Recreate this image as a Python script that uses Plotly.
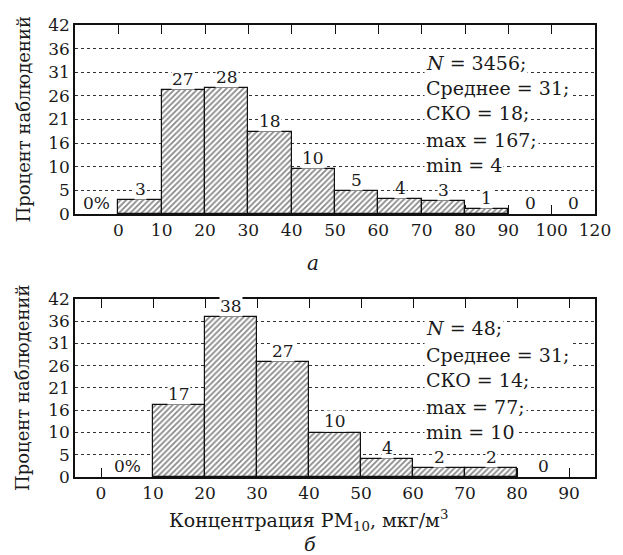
import plotly.graph_objects as go

# ---------------- data ----------------
y_tick_labels = ["0", "5", "10", "16", "21", "26", "31", "36", "42"]
y_max = 42

top_tick_labels = ["0", "10", "20", "30", "40", "50", "60", "70", "80", "90", "100", "120"]
top_bins = ["<0", "0-10", "10-20", "20-30", "30-40", "40-50", "50-60",
            "60-70", "70-80", "80-90", "90-100", "100-120"]
top_heights = [0, 3.1, 27.6, 27.9, 18.2, 9.9, 5.1, 3.4, 2.8, 1.1, 0, 0]
top_labels = ["0%", "3", "27", "28", "18", "10", "5", "4", "3", "1", "0", "0"]
top_stats = ["<i>N</i> = 3456;", "Среднее = 31;", "СКО = 18;", "max = 167;", "min = 4"]

bot_tick_labels = ["0", "10", "20", "30", "40", "50", "60", "70", "80", "90"]
bot_bins = ["0-10", "10-20", "20-30", "30-40", "40-50", "50-60", "60-70", "70-80", "80-90"]
bot_heights = [0, 17.0, 37.8, 27.2, 10.5, 4.2, 2.05, 2.05, 0]
bot_labels = ["0%", "17", "38", "27", "10", "4", "2", "2", "0"]
bot_stats = ["<i>N</i> = 48;", "Среднее = 31;", "СКО = 14;", "max = 77;", "min = 10"]

# ---------------- style ----------------
FONT = "DejaVu Serif"
TXT = "#1a1a1a"
TICK_FS = 17
LAB_FS = 17
STAT_FS = 19

fig = go.Figure()

pattern = dict(shape="/", size=4, solidity=0.45, fgcolor="#111111", bgcolor="white")

top_x = [i - 0.5 for i in range(len(top_bins))]
bot_x = [i + 0.5 for i in range(len(bot_bins))]

def nz(vals):
    return [v if v > 0 else None for v in vals]

fig.add_trace(go.Bar(x=top_x, y=nz(top_heights), width=1, customdata=top_bins,
                     marker=dict(color="white", pattern=pattern,
                                 line=dict(color="#111111", width=1.2)),
                     xaxis="x", yaxis="y", showlegend=False))
fig.add_trace(go.Bar(x=bot_x, y=nz(bot_heights), width=1, customdata=bot_bins,
                     marker=dict(color="white", pattern=pattern,
                                 line=dict(color="#111111", width=1.2)),
                     xaxis="x2", yaxis="y2", showlegend=False))

yvals = [y_max * i / (len(y_tick_labels) - 1) for i in range(len(y_tick_labels))]

def xaxis_cfg(rng, labels, anchor):
    return dict(range=rng, tickvals=list(range(len(labels))), ticktext=labels,
                ticks="inside", ticklen=9, tickwidth=1.3, tickcolor="#111111",
                showline=True, linecolor="#111111", linewidth=1.5, mirror="ticks",
                showgrid=False, zeroline=False, anchor=anchor, layer="below traces",
                tickfont=dict(family=FONT, size=TICK_FS, color=TXT))

def yaxis_cfg(domain, anchor):
    return dict(range=[0, y_max], tickvals=yvals, ticktext=y_tick_labels,
                domain=domain, anchor=anchor, ticks="", showline=True,
                linecolor="#111111", linewidth=1.5, mirror=True,
                showgrid=True, gridcolor="#333333", griddash="dot", gridwidth=1,
                zeroline=False, layer="below traces",
                tickfont=dict(family=FONT, size=TICK_FS, color=TXT))

def yaxis_right(over, anchor):
    return dict(range=[0, y_max], tickvals=yvals, overlaying=over, side="right",
                anchor=anchor, ticks="inside", ticklen=9, tickwidth=1.3,
                tickcolor="#111111", showticklabels=False, showgrid=False,
                zeroline=False, showline=False)

fig.update_layout(
    width=623, height=555,
    margin=dict(l=75, r=20, t=25, b=78),
    paper_bgcolor="white", plot_bgcolor="white",
    bargap=0,
    xaxis=xaxis_cfg([-1, len(top_tick_labels) - 1], top_tick_labels, "y"),
    yaxis=yaxis_cfg([0.582, 1.0], "x"),
    xaxis2=xaxis_cfg([-0.5, len(bot_tick_labels) - 0.5], bot_tick_labels, "y2"),
    yaxis2=yaxis_cfg([0.0, 0.394], "x2"),
    yaxis3=yaxis_right("y", "x"),
    yaxis4=yaxis_right("y2", "x2"),
)

ann = []
# bar value labels
for xs, hs, labs, xr, yr in [(top_x, top_heights, top_labels, "x", "y"),
                             (bot_x, bot_heights, bot_labels, "x2", "y2")]:
    for xv, hv, lab in zip(xs, hs, labs):
        ann.append(dict(x=xv, y=hv, xref=xr, yref=yr, text=lab, showarrow=False,
                        yanchor="bottom", xanchor="center", bgcolor="white", borderpad=0,
                        font=dict(family=FONT, size=LAB_FS, color=TXT)))

# statistics blocks
top_stat_y = [0.799, 0.667, 0.534, 0.392, 0.259]
bot_stat_y = [0.837, 0.685, 0.545, 0.393, 0.253]
for stats, ys, xr, yr in [(top_stats, top_stat_y, "x domain", "y domain"),
                          (bot_stats, bot_stat_y, "x2 domain", "y2 domain")]:
    for s, yv in zip(stats, ys):
        ann.append(dict(x=0.672, y=yv, xref=xr, yref=yr, text=s, showarrow=False,
                        xanchor="left", yanchor="middle", bgcolor="white", borderpad=1,
                        font=dict(family=FONT, size=STAT_FS, color=TXT)))

# y-axis titles
for yv in [0.791, 0.197]:
    ann.append(dict(x=-0.100, y=yv, xref="paper", yref="paper", text="Процент наблюдений",
                    textangle=-90, showarrow=False, xanchor="center", yanchor="middle",
                    font=dict(family=FONT, size=18, color=TXT)))

# x-axis title and panel letters
ann.append(dict(x=0.449, y=-0.097, xref="paper", yref="paper",
                text="Концентрация PM<sub>10</sub>, мкг/м<sup>3</sup>", showarrow=False,
                xanchor="center", yanchor="middle", font=dict(family=FONT, size=19, color=TXT)))
ann.append(dict(x=0.458, y=0.473, xref="paper", yref="paper", text="<i>а</i>",
                showarrow=False, xanchor="center", yanchor="middle",
                font=dict(family=FONT, size=20, color=TXT)))
ann.append(dict(x=0.451, y=-0.148, xref="paper", yref="paper", text="<i>б</i>",
                showarrow=False, xanchor="center", yanchor="middle",
                font=dict(family=FONT, size=19, color=TXT)))

fig.update_layout(annotations=ann)
fig.write_html("out.html")
